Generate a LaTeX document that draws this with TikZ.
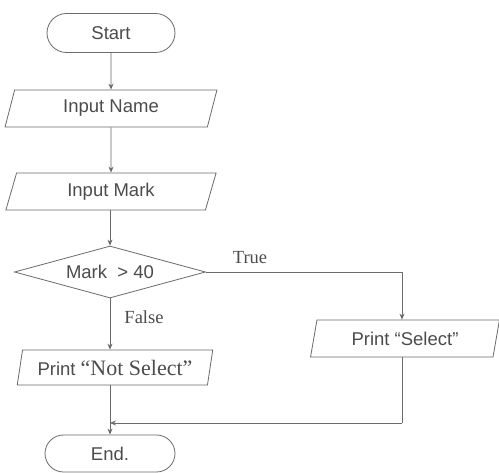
\documentclass[tikz,border=0pt]{standalone}
\usepackage{fontspec}
\setmainfont{Liberation Serif}
\setsansfont{Liberation Sans}
\usetikzlibrary{shapes.geometric,shapes.misc,arrows.meta}
\definecolor{linegray}{gray}{0.42}
\definecolor{txtgray}{gray}{0.3}
\begin{document}
\begin{tikzpicture}[x=1pt,y=-1pt,
  line/.style={draw=linegray, line width=0.8pt},
  arr/.style={line, -{Stealth[length=6pt,width=5pt]}},
  sansf/.style={font=\sffamily\fontsize{18.5}{21}\selectfont, text=txtgray},
  serf/.style={font=\rmfamily\fontsize{18.5}{21}\selectfont, text=txtgray},
  term/.style={line, sansf, rounded rectangle, minimum width=128pt, minimum height=39pt, inner sep=0pt},
  para/.style={line, sansf, trapezium, trapezium left angle=74, trapezium right angle=106,
    trapezium stretches=true, minimum height=37pt, inner sep=0pt},
  decis/.style={line, sansf, diamond, aspect=3.7, minimum width=191pt, minimum height=52pt, inner sep=0pt}
]
\useasboundingbox[fill=white] (0,0) rectangle (499,473);

\node[term] (start) at (111,33) {Start};
\node[para, minimum width=212pt] (iname) at (111,108.5) {Input Name};
\node[para, minimum width=212pt] (imark) at (111,191.5) {Input Mark};
\node[decis] (dec) at (110,272) {Mark\ \ > 40};
\node[para, minimum width=196pt, minimum height=35pt] (nsel) at (115,367.5)
  {Print {\rmfamily\fontsize{22}{24}\selectfont “Not Select”}};
\node[para, minimum width=189pt] (sel) at (405,338.5) {Print “Select”};
\node[term, minimum width=130pt, minimum height=37pt] (end) at (110,453.5) {End.};

\node[serf] (truelbl) at (250,258) {True};
\node[serf] (falselbl) at (144,317) {False};

\coordinate (corner) at (402,272);
\coordinate (join) at (110,423);
\coordinate (rcorner) at (402,423);

\draw[arr] (start) -- (iname);
\draw[arr] (iname) -- (imark);
\draw[arr] (imark.south -| dec.north) -- (dec.north);
\draw[arr] (dec.south) -- (dec.south |- nsel.north);
\draw[line] (dec.east) -- (corner);
\draw[arr] (corner) -- (corner |- sel.north);
\draw[line] (corner |- sel.south) -- (rcorner);
\draw[arr] (rcorner) -- (join);
\draw[arr] (nsel.south -| end.north) -- (end.north);
\end{tikzpicture}
\end{document}
